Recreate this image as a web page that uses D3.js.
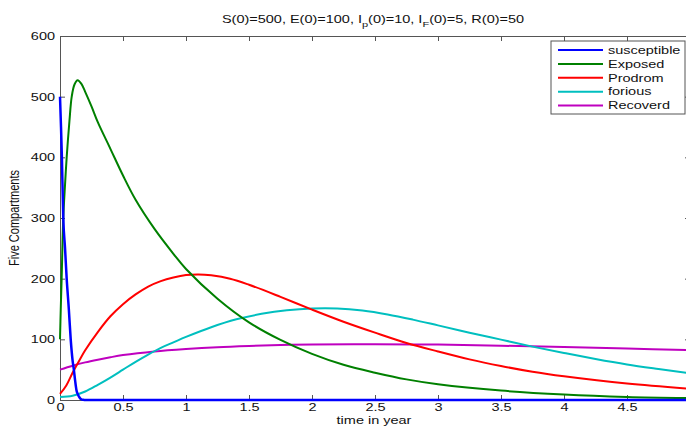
<!DOCTYPE html>
<html>
<head>
<meta charset="utf-8">
<script src="https://cdn.jsdelivr.net/npm/d3@7"></script>
<style>
  body { margin: 0; background: #fff; }
  svg { display: block; }
  text { font-family: "Liberation Sans", Arial, sans-serif; fill: #111; }
  .axis path, .axis line { stroke: #555; }
</style>
</head>
<body>
<div id="chart"></div>
<script>
// values
var tSus = [0, 0.008, 0.015, 0.026, 0.04, 0.053, 0.07, 0.085, 0.1, 0.11, 0.12, 0.13, 0.14, 0.155, 0.17, 0.185, 0.2, 1, 2, 3, 4, 5];
var susceptible = [500, 450, 400, 300, 250, 200, 150, 100, 65, 50, 32, 17, 10, 4, 1, 0.3, 0, 0, 0, 0, 0, 0];

var tExp = [0, 0.006, 0.013, 0.026, 0.04, 0.053, 0.075, 0.093, 0.115, 0.14, 0.17, 0.2, 0.25, 0.3, 0.4, 0.5, 0.6, 0.75, 0.9, 1, 1.25, 1.5, 1.75, 2, 2.25, 2.5, 2.75, 3, 3.5, 4, 4.5, 5];
var exposed = [100, 150, 200, 300, 355, 400, 460, 500, 520, 527, 521, 508, 484, 458, 414, 370, 330, 282, 241, 216, 167, 128, 99, 76, 58, 45, 34, 26, 15.5, 9, 5, 3];

var tPro = [0, 0.05, 0.1, 0.15, 0.2, 0.3, 0.4, 0.5, 0.6, 0.7, 0.8, 0.9, 1, 1.1, 1.2, 1.35, 1.5, 1.75, 2, 2.25, 2.5, 2.75, 3, 3.25, 3.5, 3.75, 4, 4.5, 5];
var prodrom = [10, 24, 45, 64, 82, 112, 138, 158, 174, 187, 196, 202, 206, 207, 205.5, 200, 190, 170, 149, 129, 111, 94, 80, 67, 56, 46.5, 39, 27, 18.5];

var tFor = [0, 0.1, 0.2, 0.3, 0.4, 0.5, 0.6, 0.7, 0.8, 0.9, 1, 1.2, 1.4, 1.6, 1.8, 2, 2.2, 2.4, 2.6, 2.8, 3, 3.25, 3.5, 3.75, 4, 4.25, 4.5, 4.75, 5];
var forious = [5, 7, 14, 25, 37, 50, 63, 75, 86, 95, 104, 120, 133, 142, 148, 151, 151, 147.5, 141, 132.5, 123, 111, 99.5, 88, 77.5, 67.5, 58.5, 51, 44];

var tRec = [0, 0.1, 0.2, 0.3, 0.4, 0.5, 0.75, 1, 1.25, 1.5, 1.75, 2, 2.5, 3, 3.5, 4, 4.5, 5];
var recoverd = [50, 56.5, 62, 66.5, 70.5, 74, 80, 84, 87, 89, 90.5, 91.5, 92, 91.3, 89.5, 87.3, 84.8, 82.2];

var names = ["susceptible", "Exposed", "Prodrom", "forious", "Recoverd"];
var colors = ["#0000ff", "#008000", "#ff0000", "#00bfbf", "#bf00bf"];
var xTicks = [0, 0.5, 1, 1.5, 2, 2.5, 3, 3.5, 4, 4.5];
var yTicks = [0, 100, 200, 300, 400, 500, 600];

var svgWidth = 686;
var svgHeight = 427;
var margin = { top: 36, left: 60 };
var width = 630;
var height = 364;
// the picture's text is stretched sideways
var stretch = 1.38;
var fs = 10.5;

var svg = d3.select("#chart")
    .append("svg")
    .attr("width", svgWidth)
    .attr("height", svgHeight);

var chartGroup = svg.append("g")
    .attr("transform", `translate(${margin.left}, ${margin.top})`);

var xScale = d3.scaleLinear().domain([0, 5]).range([0, width]);
var yScale = d3.scaleLinear().domain([0, 600]).range([height, 0]);

// axes, MATLAB style box with inward ticks
chartGroup.append("g")
    .attr("class", "axis")
    .attr("transform", `translate(0, ${height})`)
    .call(d3.axisBottom(xScale).tickValues(xTicks).tickSize(-5).tickPadding(4).tickSizeOuter(0).tickFormat(d3.format("")))
    .call(g => g.selectAll("text").attr("font-size", fs).attr("fill", "#111")
        .attr("transform", `scale(${stretch},1)`));
chartGroup.append("g")
    .attr("class", "axis")
    .call(d3.axisTop(xScale).tickValues(xTicks).tickSize(-5).tickSizeOuter(0).tickFormat(""));
chartGroup.append("g")
    .attr("class", "axis")
    .call(d3.axisLeft(yScale).tickValues(yTicks).tickSize(-5).tickSizeOuter(0))
    .call(g => g.selectAll("text").attr("font-size", fs).attr("fill", "#111")
        .attr("x", -5 / stretch)
        .attr("transform", `scale(${stretch},1)`));
chartGroup.append("g")
    .attr("class", "axis")
    .attr("transform", `translate(${width}, 0)`)
    .call(d3.axisRight(yScale).tickValues(yTicks).tickSize(-5).tickSizeOuter(0).tickFormat(""));

// lines
var series = [
    { t: tSus, v: susceptible },
    { t: tExp, v: exposed },
    { t: tPro, v: prodrom },
    { t: tFor, v: forious },
    { t: tRec, v: recoverd }
];
var line = d3.line()
    .x(d => xScale(d[0]))
    .y(d => yScale(d[1]))
    .curve(d3.curveCatmullRom.alpha(0.5));
// blue has a hard corner at the bottom, keep it monotone
var lineSus = d3.line()
    .x(d => xScale(d[0]))
    .y(d => yScale(d[1]))
    .curve(d3.curveMonotoneX);

// draw back to front so blue sits on top like the reference
[4, 3, 2, 1, 0].forEach(i => {
    chartGroup.append("path")
        .datum(d3.zip(series[i].t, series[i].v))
        .attr("fill", "none")
        .attr("stroke", colors[i])
        .attr("stroke-width", i == 0 ? 2.5 : 2)
        .attr("stroke-linejoin", "round")
        .attr("d", i == 0 ? lineSus : line);
});

// title with subscripts
var title = svg.append("text")
    .attr("transform", `translate(373, 23) scale(${stretch},1)`)
    .attr("text-anchor", "middle")
    .attr("font-size", fs);
title.append("tspan").text("S(0)=500, E(0)=100, I");
title.append("tspan").attr("font-size", 8).attr("dy", 3.5).text("p");
title.append("tspan").attr("dy", -3.5).text("(0)=10, I");
title.append("tspan").attr("font-size", 8).attr("dy", 3.5).text("F");
title.append("tspan").attr("dy", -3.5).text("(0)=5, R(0)=50");

// axis labels
svg.append("text")
    .attr("transform", `translate(19, 218) scale(${stretch},1) rotate(-90)`)
    .attr("text-anchor", "middle")
    .attr("font-size", 11)
    .text("Five Compartments");
svg.append("text")
    .attr("transform", `translate(374, 424) scale(${stretch},1)`)
    .attr("text-anchor", "middle")
    .attr("font-size", fs)
    .text("time in year");

// legend
var legend = svg.append("g").attr("transform", "translate(551, 41)");
legend.append("rect")
    .attr("width", 134)
    .attr("height", 73)
    .attr("fill", "#fff")
    .attr("stroke", "#555");
names.forEach((n, i) => {
    var y = 9 + i * 13.9;
    legend.append("line")
        .attr("x1", 7).attr("x2", 52)
        .attr("y1", y).attr("y2", y)
        .attr("stroke", colors[i])
        .attr("stroke-width", 2);
    legend.append("text")
        .attr("transform", `translate(57, ${y + 3.7}) scale(${stretch},1)`)
        .attr("font-size", fs)
        .text(n);
});
</script>
</body>
</html>
